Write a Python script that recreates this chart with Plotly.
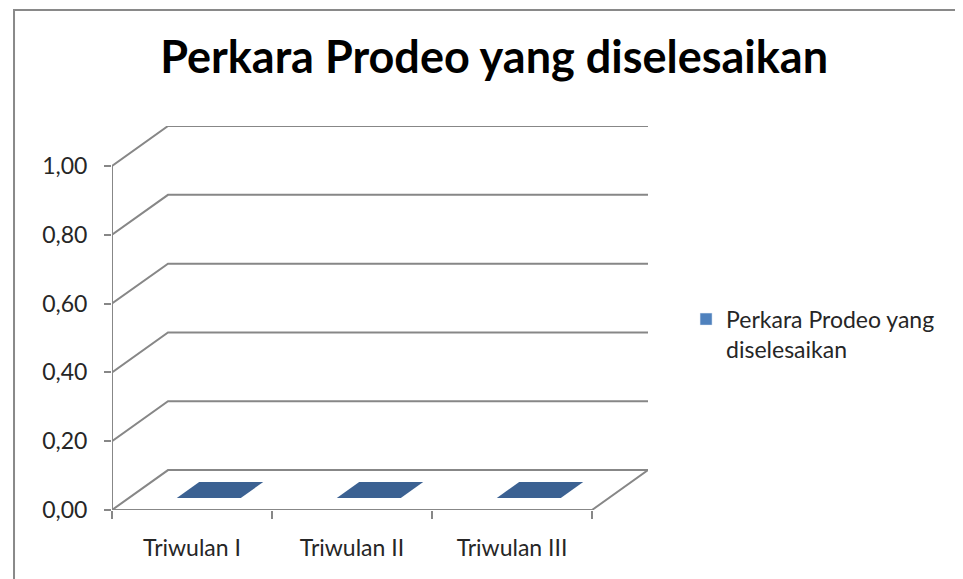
import plotly.graph_objects as go

# data
categories = ["Triwulan I", "Triwulan II", "Triwulan III"]
values = [0, 0, 0]
y_ticks = [0.0, 0.2, 0.4, 0.6, 0.8, 1.0]
series_name = "Perkara Prodeo yang diselesaikan"

# pseudo-3D geometry (in data units)
DX = 0.35      # depth shift along x (category units)
DY = 0.116     # depth shift along y (value units)
BAR_W = 0.4
D_FRONT, D_BACK = 0.3, 0.7

GRID = "#878787"
BAR_TOP = "#3B6192"
BAR_LEGEND = "#4F81BD"
FONT = "Lato"

n = len(categories)
fig = go.Figure()


def line(xs, ys):
    fig.add_trace(go.Scatter(
        x=xs, y=ys, mode="lines", line=dict(color=GRID, width=2),
        hoverinfo="skip", showlegend=False,
    ))


# back wall gridlines (the 0 line is the floor's back edge)
for v in y_ticks:
    line([0, DX, n + DX], [v, v + DY, v + DY])

# floor front / right edges and the value axis
line([0, n, n + DX], [0, 0, DY])
line([0, 0], [0, y_ticks[-1]])

# bars (top face; front and side only when value > 0)
for i, v in enumerate(values):
    c = i + 0.5
    x0, x1 = c - BAR_W / 2, c + BAR_W / 2
    fx, fy = D_FRONT * DX, D_FRONT * DY
    bx, by = D_BACK * DX, D_BACK * DY
    if v > 0:
        fig.add_trace(go.Scatter(
            x=[x0 + fx, x1 + fx, x1 + fx, x0 + fx, x0 + fx],
            y=[fy, fy, v + fy, v + fy, fy],
            fill="toself", fillcolor=BAR_LEGEND, mode="lines",
            line=dict(width=0), hoverinfo="skip", showlegend=False,
        ))
        fig.add_trace(go.Scatter(
            x=[x1 + fx, x1 + bx, x1 + bx, x1 + fx, x1 + fx],
            y=[fy, by, v + by, v + fy, fy],
            fill="toself", fillcolor="#2C4D75", mode="lines",
            line=dict(width=0), hoverinfo="skip", showlegend=False,
        ))
    fig.add_trace(go.Scatter(
        x=[x0 + fx, x1 + fx, x1 + bx, x0 + bx, x0 + fx],
        y=[v + fy, v + fy, v + by, v + by, v + fy],
        fill="toself", fillcolor=BAR_TOP, mode="lines",
        line=dict(width=0), hoverinfo="skip", showlegend=False,
    ))

# legend entry carried by the real bar trace (zero-height)
fig.add_trace(go.Bar(
    x=[i + 0.5 for i in range(n)], y=values,
    name="Perkara Prodeo yang<br>diselesaikan",
    marker_color=BAR_LEGEND, width=BAR_W, hoverinfo="skip",
))

# invisible trace so xaxis2 (category boundary ticks) is drawn
fig.add_trace(go.Scatter(
    x=[0, n], y=[0, 0], xaxis="x2", mode="lines",
    line=dict(width=0), hoverinfo="skip", showlegend=False,
))

# page has an 8px body margin, so the figure is sized/offset for it
fig.update_layout(
    width=955, height=571,
    margin=dict(l=104, r=315, t=118, b=69),
    paper_bgcolor="white", plot_bgcolor="white",
    separators=",.",
    font=dict(family=FONT, color="#262626", size=23),
    title=dict(
        text="<b>Perkara Prodeo yang diselesaikan</b>",
        x=0.509, xref="container", xanchor="center",
        y=0.914, yref="container", yanchor="middle",
        font=dict(family=FONT, size=45, color="#000000"),
    ),
    xaxis=dict(
        range=[0, n + DX], showgrid=False, zeroline=False, showline=False,
        tickvals=[i + 0.5 for i in range(n)], ticktext=categories,
        ticks="", ticklabelstandoff=22, fixedrange=True,
        tickfont=dict(size=23),
    ),
    xaxis2=dict(
        range=[0, n + DX], overlaying="x", side="bottom",
        showgrid=False, zeroline=False, showline=False,
        tickvals=list(range(n + 1)), showticklabels=False,
        ticks="outside", ticklen=8, tickwidth=2, tickcolor=GRID,
    ),
    yaxis=dict(
        range=[0, y_ticks[-1] + DY], showgrid=False, zeroline=False,
        showline=False, tickvals=y_ticks, tickformat=".2f",
        ticks="outside", ticklen=7, tickwidth=2, tickcolor=GRID,
        ticklabelstandoff=12, fixedrange=True, tickfont=dict(size=23),
    ),
    barmode="overlay",
    showlegend=True,
    legend=dict(
        x=1.071, y=0.553, xanchor="left", yanchor="top",
        valign="top", font=dict(size=23), itemwidth=30,
        bgcolor="rgba(0,0,0,0)",
    ),
    shapes=[dict(
        type="rect", xref="paper", yref="paper",
        x0=-0.1828, x1=2, y0=-1, y1=1.302,
        line=dict(color="#898989", width=2), layer="below",
    )],
)

fig.write_html("out.html")
